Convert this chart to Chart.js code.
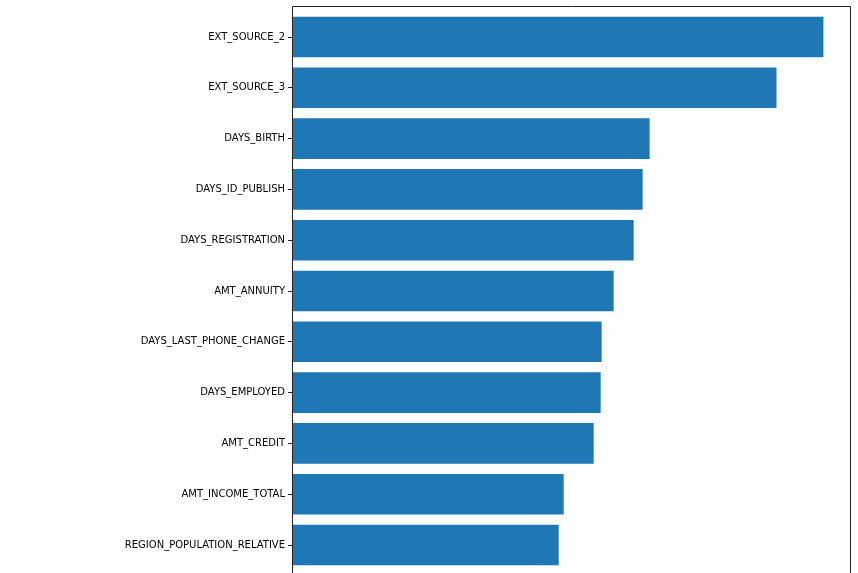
<!DOCTYPE html>
<html>
<head>
<meta charset="utf-8">
<script src="https://cdn.jsdelivr.net/npm/chart.js@4"></script>
<style>
  html, body { margin: 0; padding: 0; background: #fff; }
</style>
</head>
<body>
<canvas id="myChart" width="858" height="573"></canvas>
<script>
// features, top to bottom
const features = [
    'EXT_SOURCE_2', 'EXT_SOURCE_3', 'DAYS_BIRTH', 'DAYS_ID_PUBLISH',
    'DAYS_REGISTRATION', 'AMT_ANNUITY', 'DAYS_LAST_PHONE_CHANGE',
    'DAYS_EMPLOYED', 'AMT_CREDIT', 'AMT_INCOME_TOTAL', 'REGION_POPULATION_RELATIVE'
];
// importance
const importance = [532, 485, 358, 351, 342, 322, 310, 309, 302, 272, 267];

const barColor = '#1f77b4';

// matplotlib-like frame, a bit taller than the category area
const framePlugin = {
    id: 'frame',
    afterDraw(chart) {
        const { ctx, chartArea } = chart;
        const step = chartArea.height / features.length;
        const top = chartArea.top - step * 0.11;
        const bottom = chartArea.bottom + step * 0.11;
        ctx.save();
        ctx.strokeStyle = '#222';
        ctx.lineWidth = 1;
        ctx.beginPath();
        ctx.moveTo(chartArea.left + 0.5, bottom);
        ctx.lineTo(chartArea.left + 0.5, top + 0.5);
        ctx.lineTo(chartArea.right + 0.5, top + 0.5);
        ctx.lineTo(chartArea.right + 0.5, bottom);
        ctx.stroke();
        ctx.restore();
    }
};

new Chart(document.getElementById('myChart'), {
    type: 'bar',
    data: {
        labels: features,
        datasets: [{
            data: importance,
            backgroundColor: barColor,
            borderWidth: 0,
            categoryPercentage: 1,
            barPercentage: 0.8
        }]
    },
    options: {
        indexAxis: 'y',
        responsive: false,
        animation: false,
        layout: { padding: { top: 11.6, right: 8, bottom: 2.6, left: 0 } },
        plugins: { legend: { display: false }, tooltip: { enabled: false } },
        scales: {
            x: {
                display: false,
                min: 0,
                max: 532 * 1.05
            },
            y: {
                afterFit(scale) {
                    scale.width = 292;
                    scale.paddingTop = 0;
                    scale.paddingBottom = 0;
                },
                border: { display: false },
                grid: {
                    offset: false,
                    drawOnChartArea: false,
                    drawTicks: true,
                    tickLength: 4,
                    color: '#222'
                },
                ticks: {
                    color: '#000',
                    padding: 3,
                    font: { family: 'DejaVu Sans', size: 10 }
                }
            }
        }
    },
    plugins: [framePlugin]
});
</script>
</body>
</html>
